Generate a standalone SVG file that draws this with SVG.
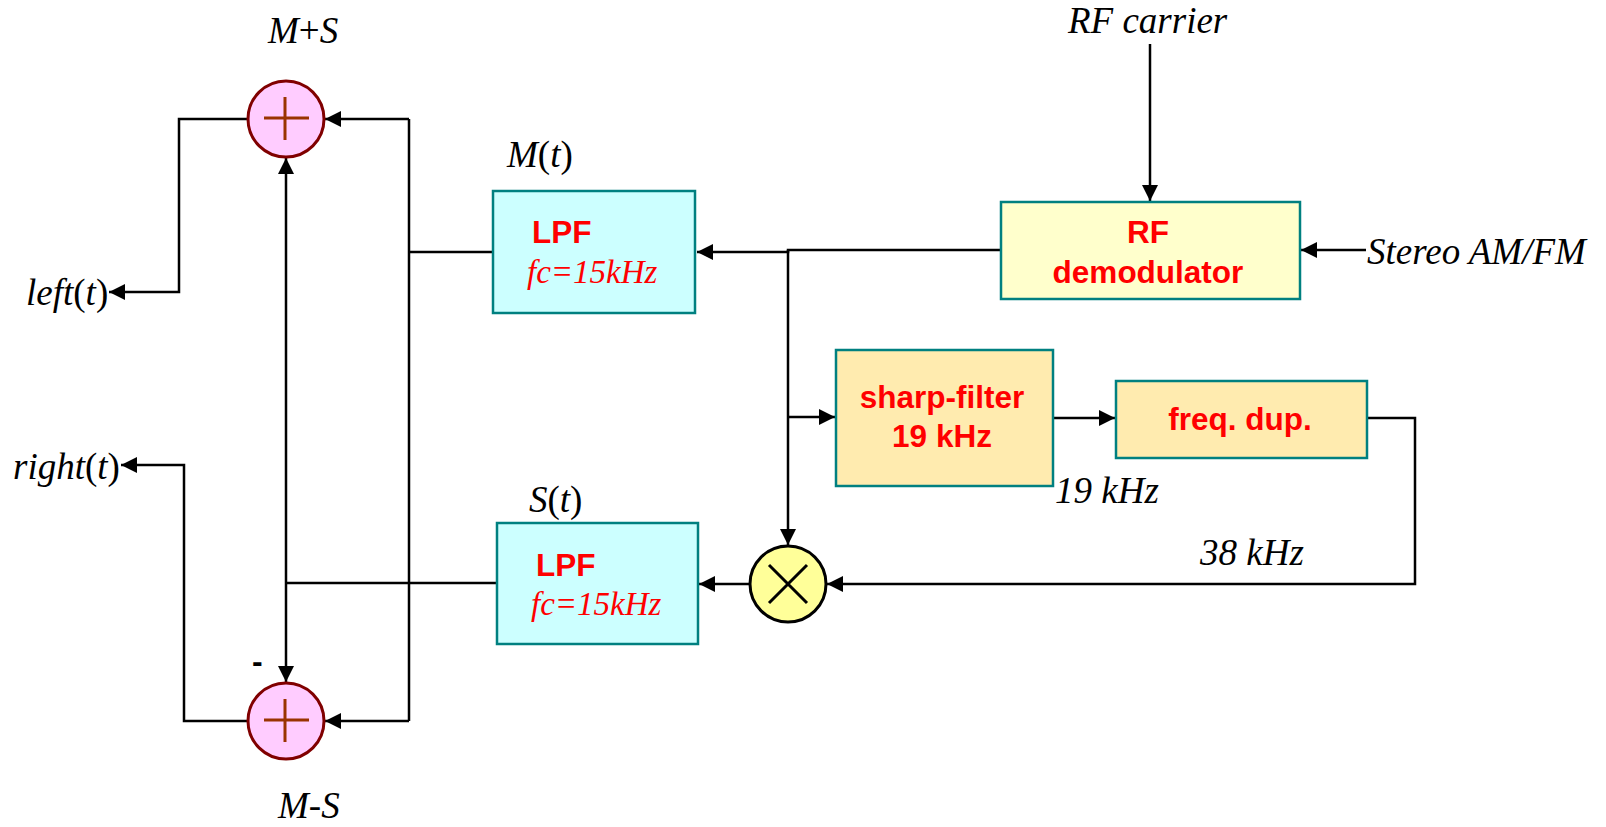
<svg xmlns="http://www.w3.org/2000/svg" width="1606" height="827" viewBox="0 0 1606 827">
<style>
.lbl{font-family:"Liberation Serif","Times New Roman",serif;font-style:italic;font-size:37px;fill:#000}
.up{font-style:normal}
.bt{font-family:"Liberation Sans",Arial,sans-serif;font-weight:bold;font-size:31.5px;fill:#ff0000}
.fc{font-family:"Liberation Serif","Times New Roman",serif;font-style:italic;font-size:33px;fill:#ff0000}
.box{stroke:#008080;stroke-width:2.5}
.sum{fill:#ffccff;stroke:#800000;stroke-width:3}
.plus{stroke:#993300;stroke-width:3;fill:none}
.wire{fill:none;stroke:#000;stroke-width:2.5}
</style>
<defs>
<marker id="ah" viewBox="0 0 10 10" refX="10" refY="5" markerWidth="6.4" markerHeight="6.4" markerUnits="strokeWidth" orient="auto">
<path d="M0,0 L10,5 L0,10 z" fill="#000"/>
</marker>
</defs>

<g id="connectors">
<path class="wire" d="M1150,44 L1150,201" marker-end="url(#ah)"/>
<path class="wire" d="M1366,250 L1301,250" marker-end="url(#ah)"/>
<path class="wire" d="M1001,250 L788,250 L788,252 L697,252" marker-end="url(#ah)"/>
<path class="wire" d="M788,250 L788,545" marker-end="url(#ah)"/>
<path class="wire" d="M788,417 L835,417" marker-end="url(#ah)"/>
<path class="wire" d="M1053,418 L1115,418" marker-end="url(#ah)"/>
<path class="wire" d="M1367,418 L1415,418 L1415,584 L827,584" marker-end="url(#ah)"/>
<path class="wire" d="M750,584 L699,584" marker-end="url(#ah)"/>
<path class="wire" d="M493,252 L409,252"/>
<path class="wire" d="M409,119 L409,721"/>
<path class="wire" d="M409,119 L325,119" marker-end="url(#ah)"/>
<path class="wire" d="M409,721 L325,721" marker-end="url(#ah)"/>
<path class="wire" d="M497,583 L286,583"/>
<path class="wire" d="M286,583 L286,158" marker-end="url(#ah)"/>
<path class="wire" d="M286,583 L286,682" marker-end="url(#ah)"/>
<path class="wire" d="M248,119 L179,119 L179,292 L109,292" marker-end="url(#ah)"/>
<path class="wire" d="M248,721 L184,721 L184,465 L121,465" marker-end="url(#ah)"/>
</g>

<g id="sum-top">
<circle class="sum" cx="286" cy="119" r="38"/>
<path class="plus" d="M264,118 L309,118 M285,97 L285,140"/>
</g>
<g id="sum-bottom">
<circle class="sum" cx="286" cy="721" r="38"/>
<path class="plus" d="M264,720 L309,720 M285,699 L285,742"/>
</g>

<g id="lpf-m">
<rect class="box" x="493" y="191" width="202" height="122" fill="#ccffff"/>
<text class="bt" x="532" y="243">LPF</text>
<text class="fc" x="527" y="283">fc=15kHz</text>
</g>
<g id="lpf-s">
<rect class="box" x="497" y="523" width="201" height="121" fill="#ccffff"/>
<text class="bt" x="536" y="576">LPF</text>
<text class="fc" x="531" y="615">fc=15kHz</text>
</g>
<g id="rf-demod">
<rect class="box" x="1001" y="202" width="299" height="97" fill="#ffffcc"/>
<text class="bt" x="1148" y="243" text-anchor="middle">RF</text>
<text class="bt" x="1148" y="283" text-anchor="middle">demodulator</text>
</g>
<g id="sharp-filter">
<rect class="box" x="836" y="350" width="217" height="136" fill="#ffebaf"/>
<text class="bt" x="942" y="408" text-anchor="middle">sharp-filter</text>
<text class="bt" x="942" y="447" text-anchor="middle">19 kHz</text>
</g>
<g id="freq-dup">
<rect class="box" x="1116" y="381" width="251" height="77" fill="#ffebaf"/>
<text class="bt" x="1240" y="430" text-anchor="middle">freq. dup.</text>
</g>
<g id="multiplier">
<circle cx="788" cy="584" r="38" fill="#ffff99" stroke="#000" stroke-width="3"/>
<path d="M769,565 L807,603 M807,565 L769,603" stroke="#000" stroke-width="3"/>
</g>

<g id="labels">
<text class="lbl" x="268" y="43">M<tspan class="up">+</tspan>S</text>
<text class="lbl" x="278" y="818">M<tspan class="up">-</tspan>S</text>
<text class="lbl" x="26" y="305">left<tspan class="up">(</tspan>t<tspan class="up">)</tspan></text>
<text class="lbl" x="13" y="479">right<tspan class="up">(</tspan>t<tspan class="up">)</tspan></text>
<text class="lbl" x="507" y="167">M<tspan class="up">(</tspan>t<tspan class="up">)</tspan></text>
<text class="lbl" x="529" y="512">S<tspan class="up">(</tspan>t<tspan class="up">)</tspan></text>
<text class="lbl" x="1068" y="33">RF carrier</text>
<text class="lbl" x="1367" y="264">Stereo AM/FM</text>
<text class="lbl" x="1055" y="503">19 kHz</text>
<text class="lbl" x="1200" y="565">38 kHz</text>
<text x="252" y="672" font-family="Liberation Sans, Arial, sans-serif" font-weight="bold" font-size="32" fill="#000">-</text>
</g>
</svg>
